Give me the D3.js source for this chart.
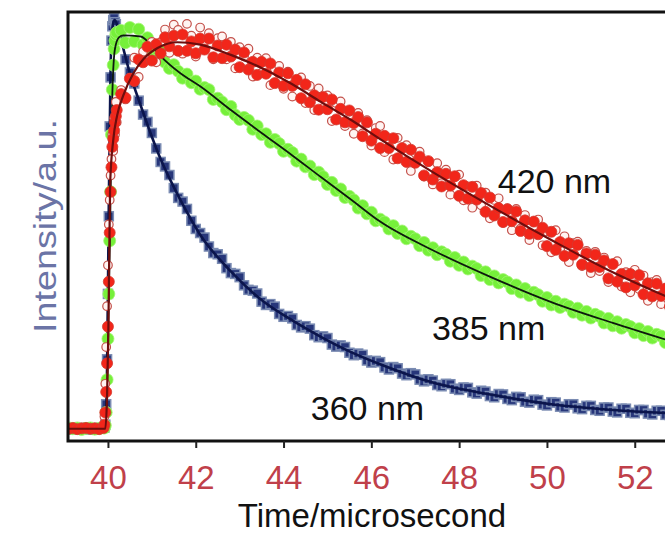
<!DOCTYPE html>
<html>
<head>
<meta charset="utf-8">
<script src="https://cdn.jsdelivr.net/npm/d3@7"></script>
<style>
  html, body { margin: 0; padding: 0; background: #fff; }
  svg { display: block; font-family: "Liberation Sans", Arial, sans-serif; }
</style>
</head>
<body>
<svg id="chart" width="665" height="533"></svg>
<script>
// ---- sample times (microseconds) ----
const baselineTimes = [39.0, 39.1, 39.2, 39.3, 39.4, 39.5, 39.6, 39.7, 39.8, 39.9];
const riseTimes = [39.92, 39.94, 39.96, 39.98, 40.00, 40.02, 40.04, 40.06, 40.08, 40.10, 40.12, 40.14, 40.16, 40.18, 40.20];
const decayStart = 40.3, decayStep = 0.1, decayCount = 126;

// ---- normalised emission intensity, one value per sample time ----
const counts360 = [
  0.002, -0.002, 0.001, -0.001, 0.002, 0.000, -0.002, 0.001, 0.002, 0.003,
  0.003, 0.010, 0.060, 0.170, 0.330, 0.520, 0.740, 0.860, 0.950, 0.985, 1.000, 1.005, 0.995, 0.990, 0.975,
  0.954, 0.904, 0.872, 0.845, 0.803, 0.769, 0.751, 0.724, 0.686, 0.653,
  0.642, 0.621, 0.589, 0.565, 0.556, 0.538, 0.509, 0.489, 0.479, 0.468,
  0.446, 0.430, 0.427, 0.416, 0.393, 0.381, 0.379, 0.371, 0.351, 0.340,
  0.338, 0.331, 0.311, 0.303, 0.305, 0.299, 0.281, 0.274, 0.276, 0.270,
  0.254, 0.248, 0.251, 0.245, 0.229, 0.224, 0.226, 0.222, 0.206, 0.201,
  0.204, 0.200, 0.186, 0.180, 0.184, 0.181, 0.167, 0.162, 0.166, 0.163,
  0.150, 0.145, 0.151, 0.148, 0.135, 0.131, 0.136, 0.133, 0.120, 0.116,
  0.121, 0.118, 0.107, 0.104, 0.110, 0.109, 0.098, 0.095, 0.101, 0.100,
  0.089, 0.086, 0.093, 0.091, 0.080, 0.077, 0.085, 0.084, 0.073, 0.070,
  0.078, 0.077, 0.066, 0.064, 0.071, 0.070, 0.059, 0.057, 0.065, 0.064,
  0.054, 0.052, 0.060, 0.060, 0.050, 0.048, 0.056, 0.056, 0.046, 0.044,
  0.052, 0.052, 0.042, 0.040, 0.049, 0.049, 0.039, 0.038, 0.046, 0.046,
  0.037, 0.035, 0.044, 0.044, 0.034, 0.033
];
const counts385 = [
  -0.001, 0.002, 0.000, 0.002, -0.002, 0.001, 0.002, -0.001, 0.001, 0.002,
  0.002, 0.008, 0.040, 0.120, 0.220, 0.330, 0.460, 0.580, 0.720, 0.830, 0.890, 0.930, 0.950, 0.965, 0.970,
  0.975, 0.945, 0.982, 0.948, 0.978, 0.940, 0.957, 0.921, 0.930, 0.925,
  0.897, 0.882, 0.891, 0.875, 0.858, 0.868, 0.847, 0.851, 0.831, 0.835,
  0.830, 0.806, 0.809, 0.800, 0.781, 0.789, 0.768, 0.757, 0.762, 0.755,
  0.733, 0.741, 0.720, 0.722, 0.701, 0.708, 0.698, 0.679, 0.684, 0.676,
  0.655, 0.660, 0.641, 0.643, 0.622, 0.628, 0.617, 0.598, 0.603, 0.583,
  0.587, 0.566, 0.569, 0.560, 0.540, 0.546, 0.526, 0.530, 0.509, 0.513,
  0.506, 0.489, 0.497, 0.478, 0.484, 0.465, 0.471, 0.465, 0.448, 0.456,
  0.437, 0.443, 0.426, 0.433, 0.427, 0.410, 0.419, 0.400, 0.408, 0.391,
  0.398, 0.392, 0.375, 0.384, 0.365, 0.374, 0.357, 0.365, 0.359, 0.343,
  0.352, 0.334, 0.343, 0.326, 0.334, 0.328, 0.312, 0.321, 0.303, 0.312,
  0.297, 0.305, 0.300, 0.285, 0.295, 0.278, 0.287, 0.271, 0.280, 0.275,
  0.259, 0.270, 0.252, 0.262, 0.246, 0.255, 0.250, 0.235, 0.245, 0.228,
  0.238, 0.222, 0.231, 0.227, 0.211, 0.221
];
const counts420 = [
  0.001, 0.000, 0.002, -0.001, 0.001, 0.002, 0.000, 0.001, -0.001, 0.002,
  0.010, 0.040, 0.090, 0.160, 0.250, 0.360, 0.480, 0.580, 0.640, 0.690, 0.710, 0.730, 0.750, 0.765, 0.780,
  0.819, 0.810, 0.857, 0.851, 0.904, 0.897, 0.935, 0.901, 0.941, 0.919,
  0.958, 0.936, 0.962, 0.925, 0.965, 0.925, 0.948, 0.919, 0.955, 0.928,
  0.955, 0.909, 0.938, 0.907, 0.940, 0.911, 0.928, 0.885, 0.921, 0.879,
  0.898, 0.866, 0.898, 0.869, 0.894, 0.846, 0.872, 0.839, 0.870, 0.839,
  0.854, 0.809, 0.843, 0.799, 0.816, 0.781, 0.812, 0.782, 0.806, 0.757,
  0.783, 0.750, 0.779, 0.748, 0.763, 0.716, 0.750, 0.705, 0.722, 0.687,
  0.717, 0.687, 0.711, 0.662, 0.687, 0.653, 0.683, 0.651, 0.666, 0.620,
  0.655, 0.610, 0.628, 0.593, 0.624, 0.595, 0.618, 0.570, 0.596, 0.563,
  0.592, 0.561, 0.577, 0.531, 0.566, 0.522, 0.540, 0.506, 0.537, 0.508,
  0.532, 0.484, 0.510, 0.477, 0.507, 0.476, 0.492, 0.447, 0.482, 0.438,
  0.457, 0.423, 0.454, 0.426, 0.450, 0.402, 0.429, 0.396, 0.426, 0.396,
  0.412, 0.368, 0.403, 0.360, 0.379, 0.346, 0.379, 0.351, 0.376, 0.329,
  0.356, 0.324, 0.355, 0.325, 0.343, 0.299
];
// second 420 nm acquisition (open symbols), recorded from the trigger onward
const counts420b = [
  null, null, null, null, null, null, null, null, null, null,
  0.030, 0.110, 0.200, 0.300, 0.400, 0.500, 0.560, 0.620, 0.660, 0.720, 0.680, 0.760, 0.720, 0.800, 0.750,
  0.829, 0.806, 0.859, 0.908, 0.861, 0.923, 0.903, 0.947, 0.897, 0.946,
  0.977, 0.920, 0.989, 0.976, 0.918, 0.991, 0.962, 0.911, 0.982, 0.948,
  0.968, 0.904, 0.956, 0.960, 0.904, 0.947, 0.882, 0.934, 0.911, 0.930,
  0.862, 0.908, 0.871, 0.907, 0.841, 0.881, 0.888, 0.832, 0.874, 0.813,
  0.854, 0.860, 0.797, 0.839, 0.780, 0.833, 0.785, 0.816, 0.753, 0.797,
  0.801, 0.741, 0.776, 0.722, 0.773, 0.723, 0.755, 0.693, 0.736, 0.741,
  0.677, 0.710, 0.659, 0.712, 0.663, 0.694, 0.631, 0.675, 0.678, 0.617,
  0.653, 0.598, 0.650, 0.601, 0.634, 0.573, 0.616, 0.622, 0.559, 0.593,
  0.541, 0.595, 0.547, 0.578, 0.515, 0.560, 0.564, 0.504, 0.540, 0.486,
  0.538, 0.490, 0.523, 0.462, 0.506, 0.512, 0.449, 0.483, 0.432, 0.486,
  0.439, 0.471, 0.408, 0.454, 0.458, 0.398, 0.435, 0.381, 0.433, 0.386,
  0.419, 0.359, 0.403, 0.410, 0.348, 0.383, 0.334, 0.389, 0.342, 0.375,
  0.313, 0.359, 0.364, 0.305, 0.343, 0.290
];

// ---- fitted kinetic traces [time, intensity] ----
const fit360 = [[39.0, 0], [39.94, 0], [39.98, 0.15], [40.02, 0.55], [40.06, 0.88], [40.10, 0.98], [40.15, 1.0],
  [40.3, 0.95], [40.5, 0.87], [40.75, 0.79], [41.2, 0.66], [41.65, 0.56], [42.1, 0.475], [42.8, 0.385],
  [43.5, 0.315], [44.2, 0.265], [44.85, 0.225], [45.55, 0.187], [46.2, 0.158], [47.4, 0.113],
  [48.75, 0.083], [50.1, 0.06], [51.5, 0.046], [52.8, 0.038]];
const fit385 = [[39.0, 0], [39.95, 0], [40.0, 0.2], [40.05, 0.5], [40.1, 0.82], [40.16, 0.93], [40.25, 0.958],
  [40.35, 0.963], [40.75, 0.96], [40.97, 0.94], [41.2, 0.912], [41.65, 0.87], [42.1, 0.838], [42.8, 0.78],
  [43.5, 0.724], [44.2, 0.669], [44.85, 0.616], [45.55, 0.56], [46.2, 0.507], [47.4, 0.437],
  [48.75, 0.37], [50.1, 0.31], [51.5, 0.259], [52.8, 0.215]];
const fit420 = [[39.0, 0], [39.94, 0], [39.98, 0.08], [40.01, 0.24], [40.05, 0.6], [40.12, 0.706], [40.21, 0.767],
  [40.35, 0.816], [40.58, 0.87], [40.81, 0.905], [41.13, 0.932], [41.58, 0.946], [42.1, 0.94], [42.8, 0.915],
  [43.5, 0.883], [44.2, 0.843], [44.85, 0.8], [45.55, 0.755], [46.2, 0.709], [47.4, 0.628],
  [48.75, 0.543], [50.1, 0.462], [51.5, 0.383], [52.8, 0.32]];

const xTicks = [40, 42, 44, 46, 48, 50, 52];
const traceLabels = [
  { text: "420 nm", t: 48.88, v: 0.577 },
  { text: "385 nm", t: 47.38, v: 0.217 },
  { text: "360 nm", t: 44.62, v: 0.021 }
];

// ---- build ----
const times = baselineTimes.concat(riseTimes,
  d3.range(decayCount).map(i => +(decayStart + i * decayStep).toFixed(1)));

const svg = d3.select("#chart");
const plot = { left: 68, top: 12, right: 685, bottom: 441 };

const x = d3.scaleLinear().domain([39.09, 53.145]).range([plot.left, plot.right]);
const y = d3.scaleLinear().domain([-0.03, 1.02]).range([plot.bottom, plot.top]);

svg.append("defs").append("clipPath").attr("id", "plot-clip")
  .append("rect")
  .attr("x", plot.left).attr("y", plot.top)
  .attr("width", plot.right - plot.left).attr("height", plot.bottom - plot.top);

const layer = svg.append("g").attr("clip-path", "url(#plot-clip)");
const pts = vals => vals.map((v, i) => [times[i], v]).filter(d => d[1] !== null);
const line = d3.line().x(d => x(d[0])).y(d => y(d[1])).curve(d3.curveMonotoneX);

// 360 nm: square symbols
layer.append("g").selectAll("rect").data(pts(counts360)).join("rect")
  .attr("x", d => x(d[0]) - 4.5).attr("y", d => y(d[1]) - 4.5)
  .attr("width", 9).attr("height", 9)
  .attr("fill", "#27367a").attr("stroke", "#7a8bb2").attr("stroke-width", 1.5);
layer.append("path").datum(fit360).attr("d", line)
  .attr("fill", "none").attr("stroke", "#0b154c").attr("stroke-width", 2.6);

// 385 nm: filled green dots
layer.append("g").selectAll("circle").data(pts(counts385)).join("circle")
  .attr("cx", d => x(d[0])).attr("cy", d => y(d[1])).attr("r", 6)
  .attr("fill", "#76f03a").attr("stroke", "#a2f573").attr("stroke-width", 0.8);
layer.append("path").datum(fit385).attr("d", line)
  .attr("fill", "none").attr("stroke", "#0d1a0d").attr("stroke-width", 1.8);

// 420 nm: open circles beneath, filled circles over them
layer.append("g").selectAll("circle").data(pts(counts420b)).join("circle")
  .attr("cx", d => x(d[0])).attr("cy", d => y(d[1])).attr("r", 4.3)
  .attr("fill", "#fff4f2").attr("stroke", "#c4524c").attr("stroke-width", 1.2);
layer.append("g").selectAll("circle").data(pts(counts420)).join("circle")
  .attr("cx", d => x(d[0])).attr("cy", d => y(d[1])).attr("r", 5.5)
  .attr("fill", "#f2261a").attr("stroke", "#d43a30").attr("stroke-width", 0.8);
layer.append("path").datum(fit420).attr("d", line)
  .attr("fill", "none").attr("stroke", "#6e0d0d").attr("stroke-width", 2.2);

// frame
svg.append("rect")
  .attr("x", plot.left).attr("y", plot.top)
  .attr("width", plot.right - plot.left).attr("height", plot.bottom - plot.top)
  .attr("fill", "none").attr("stroke", "#111").attr("stroke-width", 3);

// bottom axis
const xAxis = svg.append("g").attr("transform", `translate(0,${plot.bottom})`)
  .call(d3.axisBottom(x).tickValues(xTicks).tickFormat(d3.format("d")).tickSize(7).tickPadding(18));
xAxis.select(".domain").remove();
xAxis.selectAll(".tick line").attr("stroke", "#222").attr("stroke-width", 2);
xAxis.selectAll(".tick text")
  .attr("fill", "#c0404a").attr("font-size", 33)
  .attr("font-family", "'Liberation Sans', Arial, sans-serif");

// axis titles
svg.append("text")
  .attr("x", 372).attr("y", 527)
  .attr("text-anchor", "middle").attr("font-size", 33).attr("fill", "#111")
  .text("Time/microsecond");
svg.append("text")
  .attr("transform", "translate(56,226) rotate(-90)")
  .attr("text-anchor", "middle").attr("font-size", 31).attr("fill", "#6b74a6")
  .attr("textLength", 214).attr("lengthAdjust", "spacingAndGlyphs")
  .text("Intensity/a.u.");

// trace labels
svg.append("g").selectAll("text").data(traceLabels).join("text")
  .attr("x", d => x(d.t)).attr("y", d => y(d.v))
  .attr("font-size", 34).attr("fill", "#111")
  .text(d => d.text);
</script>
</body>
</html>
